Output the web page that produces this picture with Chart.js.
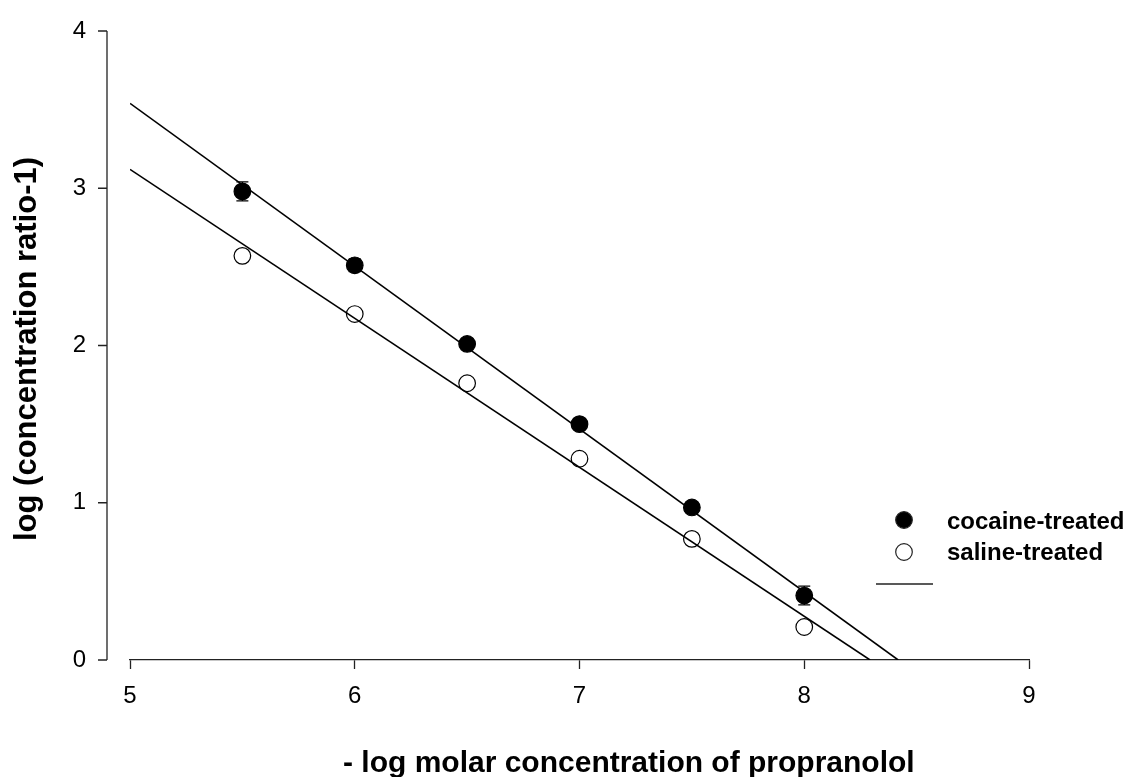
<!DOCTYPE html>
<html>
<head>
<meta charset="utf-8">
<script src="https://cdn.jsdelivr.net/npm/chart.js@4/dist/chart.umd.min.js"></script>
<style>
  body { margin: 0; background: #fff; }
  canvas { display: block; }
</style>
</head>
<body>
<canvas id="myChart" width="1134" height="777"></canvas>
<script>
/* Schild plot data */
var doses = [5.5, 6, 6.5, 7, 7.5, 8];
var cocaine = [2.98, 2.51, 2.01, 1.50, 0.97, 0.41];
var cocaineErr = [0.06, 0.04, 0.03, 0.03, 0.03, 0.06];
var saline = [2.57, 2.20, 1.76, 1.28, 0.77, 0.21];
var salineErr = [0.03, 0.03, 0.03, 0.03, 0.03, 0.03];

// regression lines (start and x-intercept)
var cocaineFitX = [5, 8.418];
var cocaineFitY = [3.54, 0];
var salineFitX = [5, 8.293];
var salineFitY = [3.12, 0];

var xTicks = [5, 6, 7, 8, 9];
var yTicks = [0, 1, 2, 3, 4];

var FONT = "'Liberation Sans', Arial, sans-serif";

function pts(xs, ys) {
  return xs.map(function (x, i) { return { x: x, y: ys[i] }; });
}

var errorBars = {
  id: 'errorBars',
  beforeDatasetsDraw: function (chart) {
    var ctx = chart.ctx, xs = chart.scales.x, ys = chart.scales.y;
    var sets = [[cocaine, cocaineErr], [saline, salineErr]];
    ctx.save();
    ctx.strokeStyle = '#000';
    ctx.lineWidth = 1.3;
    sets.forEach(function (s) {
      doses.forEach(function (d, i) {
        var px = xs.getPixelForValue(d);
        var top = ys.getPixelForValue(s[0][i] + s[1][i]);
        var bot = ys.getPixelForValue(s[0][i] - s[1][i]);
        ctx.beginPath();
        ctx.moveTo(px, top); ctx.lineTo(px, bot);
        ctx.moveTo(px - 6, top); ctx.lineTo(px + 6, top);
        ctx.moveTo(px - 6, bot); ctx.lineTo(px + 6, bot);
        ctx.stroke();
      });
    });
    ctx.restore();
  }
};

var decor = {
  id: 'decor',
  afterDraw: function (chart) {
    var ctx = chart.ctx, ys = chart.scales.y, area = chart.chartArea;
    ctx.save();
    // detached y axis
    var ax = area.left - 23;
    ctx.strokeStyle = '#222';
    ctx.lineWidth = 1.3;
    ctx.beginPath();
    ctx.moveTo(ax, ys.top);
    ctx.lineTo(ax, ys.bottom);
    yTicks.forEach(function (t) {
      var py = ys.getPixelForValue(t);
      ctx.moveTo(ax - 9, py);
      ctx.lineTo(ax, py);
    });
    ctx.stroke();

    // axis titles
    ctx.fillStyle = '#000';
    ctx.font = 'bold 30px ' + FONT;
    ctx.textAlign = 'left';
    ctx.textBaseline = 'alphabetic';
    ctx.fillText('- log molar concentration of propranolol', 343, 772);

    ctx.save();
    ctx.font = 'bold 31px ' + FONT;
    ctx.translate(36, 349);
    ctx.rotate(-Math.PI / 2);
    ctx.textAlign = 'center';
    ctx.fillText('log (concentration ratio-1)', 0, 0);
    ctx.restore();

    // legend
    ctx.lineWidth = 1.2;
    ctx.beginPath();
    ctx.arc(904, 520, 8.3, 0, Math.PI * 2);
    ctx.fillStyle = '#000';
    ctx.fill();
    ctx.stroke();
    ctx.beginPath();
    ctx.arc(904, 552, 8.3, 0, Math.PI * 2);
    ctx.fillStyle = '#fff';
    ctx.fill();
    ctx.stroke();
    ctx.lineWidth = 1.6;
    ctx.beginPath();
    ctx.moveTo(876, 584);
    ctx.lineTo(933, 584);
    ctx.stroke();

    ctx.fillStyle = '#000';
    ctx.font = 'bold 24px ' + FONT;
    ctx.textAlign = 'left';
    ctx.fillText('cocaine-treated', 947, 529);
    ctx.fillText('saline-treated', 947, 560);
    ctx.restore();
  }
};

var ctx1 = document.getElementById('myChart').getContext('2d');
window.myChart = new Chart(ctx1, {
  type: 'scatter',
  data: {
    datasets: [
      {
        label: 'cocaine fit',
        type: 'line',
        data: pts(cocaineFitX, cocaineFitY),
        borderColor: '#000',
        borderWidth: 1.6,
        pointRadius: 0,
        fill: false
      },
      {
        label: 'saline fit',
        type: 'line',
        data: pts(salineFitX, salineFitY),
        borderColor: '#000',
        borderWidth: 1.6,
        pointRadius: 0,
        fill: false
      },
      {
        label: 'cocaine-treated',
        data: pts(doses, cocaine),
        pointRadius: 8.3,
        pointBackgroundColor: '#000',
        pointBorderColor: '#000',
        pointBorderWidth: 1.2
      },
      {
        label: 'saline-treated',
        data: pts(doses, saline),
        pointRadius: 8.3,
        pointBackgroundColor: '#fff',
        pointBorderColor: '#000',
        pointBorderWidth: 1.2
      }
    ]
  },
  options: {
    responsive: false,
    animation: false,
    layout: { padding: { top: 31, right: 105, bottom: 0, left: 0 } },
    plugins: {
      legend: { display: false },
      title: { display: false },
      tooltip: { enabled: false }
    },
    scales: {
      x: {
        type: 'linear',
        min: 5,
        max: 9,
        afterFit: function (s) { s.height = 117; },
        afterBuildTicks: function (s) { s.ticks = xTicks.map(function (v) { return { value: v }; }); },
        grid: {
          display: true,
          drawOnChartArea: false,
          drawTicks: true,
          tickLength: 9,
          tickColor: '#222',
          tickWidth: 1.3
        },
        border: { display: true, color: '#222', width: 1.3 },
        ticks: {
          color: '#000',
          padding: 13,
          maxRotation: 0,
          font: { family: FONT, size: 24 }
        }
      },
      y: {
        min: 0,
        max: 4,
        afterFit: function (s) { s.width = 130; },
        afterBuildTicks: function (s) { s.ticks = yTicks.map(function (v) { return { value: v }; }); },
        grid: {
          display: true,
          drawOnChartArea: false,
          drawTicks: true,
          tickLength: 44,
          tickColor: 'rgba(0,0,0,0)'
        },
        border: { display: false },
        ticks: {
          color: '#000',
          padding: 0,
          font: { family: FONT, size: 24 }
        }
      }
    }
  },
  plugins: [errorBars, decor]
});
</script>
</body>
</html>
